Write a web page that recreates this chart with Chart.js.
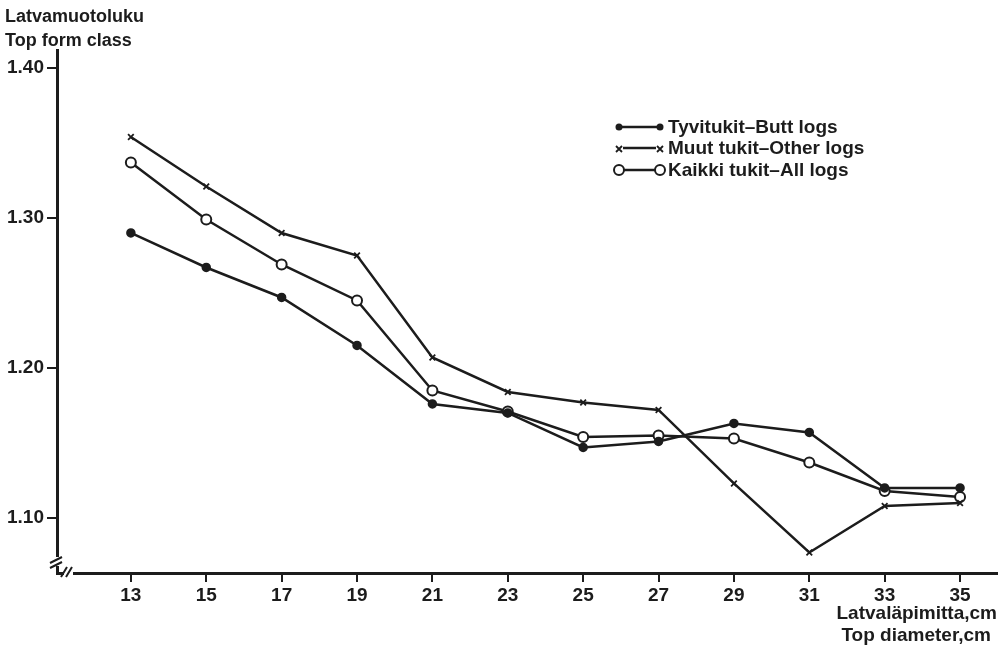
<!DOCTYPE html>
<html>
<head>
<meta charset="utf-8">
<script src="https://cdn.jsdelivr.net/npm/chart.js@4"></script>
<style>
  html, body { margin: 0; padding: 0; background: #fff; }
  #wrap { width: 1007px; height: 648px; }
</style>
</head>
<body>
<div id="wrap"><canvas id="chart" width="1007" height="648"></canvas></div>
<script>
// Latvaläpimitta (cm)
const diameters = [13, 15, 17, 19, 21, 23, 25, 27, 29, 31, 33, 35];
// Latvamuotoluku per series
const buttLogs  = [1.290, 1.267, 1.247, 1.215, 1.176, 1.170, 1.147, 1.151, 1.163, 1.157, 1.120, 1.120];
const otherLogs = [1.354, 1.321, 1.290, 1.275, 1.207, 1.184, 1.177, 1.172, 1.123, 1.077, 1.108, 1.110];
const allLogs   = [1.337, 1.299, 1.269, 1.245, 1.185, 1.171, 1.154, 1.155, 1.153, 1.137, 1.118, 1.114];
const yTicks = [1.10, 1.20, 1.30, 1.40];

const ink = '#1c1c1c';
const font = 'Liberation Sans, Arial, sans-serif';

const toPoints = arr => arr.map((v, i) => ({ x: diameters[i], y: v }));

const decor = {
    id: 'decor',
    afterDraw(chart) {
        const ctx = chart.ctx;
        const a = chart.chartArea;
        ctx.save();
        ctx.fillStyle = ink;
        ctx.font = 'bold 18px ' + font;
        ctx.textBaseline = 'middle';
        ctx.textAlign = 'left';
        ctx.fillText('Latvamuotoluku', 5, 17);
        ctx.fillText('Top form class', 5, 41);
        ctx.font = 'bold 19px ' + font;
        ctx.textAlign = 'right';
        ctx.fillText('Latvaläpimitta,cm', 997, 614);
        ctx.fillText('Top diameter,cm', 991, 636);

        // axis breaks
        ctx.fillStyle = '#fff';
        ctx.fillRect(a.left - 4, a.bottom - 16, 8, 9);
        ctx.fillRect(a.left + 7, a.bottom - 3, 9, 6);
        ctx.strokeStyle = ink;
        ctx.lineWidth = 2;
        ctx.beginPath();
        ctx.moveTo(a.left - 7, a.bottom - 10); ctx.lineTo(a.left + 5, a.bottom - 16);
        ctx.moveTo(a.left - 7, a.bottom - 5); ctx.lineTo(a.left + 5, a.bottom - 11);
        ctx.moveTo(a.left + 4, a.bottom + 4); ctx.lineTo(a.left + 10, a.bottom - 6);
        ctx.moveTo(a.left + 9, a.bottom + 4); ctx.lineTo(a.left + 15, a.bottom - 6);
        ctx.stroke();

        // legend
        const rows = [
            { y: 127, style: 'dot', text: 'Tyvitukit–Butt logs' },
            { y: 148, style: 'x', text: 'Muut tukit–Other logs' },
            { y: 170, style: 'ring', text: 'Kaikki tukit–All logs' }
        ];
        ctx.lineWidth = 2.5;
        rows.forEach(r => {
            ctx.strokeStyle = ink;
            ctx.beginPath();
            ctx.moveTo(619, r.y); ctx.lineTo(660, r.y);
            ctx.stroke();
            [619, 660].forEach(px => {
                if (r.style === 'dot') {
                    ctx.fillStyle = ink;
                    ctx.beginPath(); ctx.arc(px, r.y, 3.5, 0, Math.PI * 2); ctx.fill();
                } else if (r.style === 'ring') {
                    ctx.fillStyle = '#fff';
                    ctx.beginPath(); ctx.arc(px, r.y, 5, 0, Math.PI * 2); ctx.fill();
                    ctx.lineWidth = 2; ctx.stroke(); ctx.lineWidth = 2.5;
                } else {
                    ctx.fillStyle = '#fff';
                    ctx.fillRect(px - 4, r.y - 4, 8, 8);
                    ctx.lineWidth = 1.8;
                    ctx.beginPath();
                    ctx.moveTo(px - 3, r.y - 2); ctx.lineTo(px + 3, r.y + 4);
                    ctx.moveTo(px + 3, r.y - 2); ctx.lineTo(px - 3, r.y + 4);
                    ctx.stroke();
                    ctx.lineWidth = 2.5;
                }
            });
            ctx.fillStyle = ink;
            ctx.textAlign = 'left';
            ctx.font = 'bold 19px ' + font;
            ctx.fillText(r.text, 668, r.y + 1);
        });
        ctx.restore();
    }
};

new Chart(document.getElementById('chart').getContext('2d'), {
    type: 'line',
    data: {
        datasets: [
            {
                label: 'Tyvitukit–Butt logs',
                data: toPoints(buttLogs),
                borderColor: ink,
                backgroundColor: ink,
                borderWidth: 2.5,
                pointRadius: 3.5,
                pointStyle: 'circle',
                tension: 0
            },
            {
                label: 'Muut tukit–Other logs',
                data: toPoints(otherLogs),
                borderColor: ink,
                backgroundColor: ink,
                borderWidth: 2.5,
                pointRadius: 4,
                pointBorderWidth: 1.8,
                pointStyle: 'crossRot',
                tension: 0
            },
            {
                label: 'Kaikki tukit–All logs',
                data: toPoints(allLogs),
                borderColor: ink,
                backgroundColor: '#fff',
                borderWidth: 2.5,
                pointRadius: 5,
                pointBorderWidth: 2,
                pointStyle: 'circle',
                tension: 0
            }
        ]
    },
    options: {
        responsive: false,
        animation: false,
        layout: { padding: { left: 0, right: 10, top: 50, bottom: 0 } },
        plugins: { legend: { display: false }, tooltip: { enabled: false } },
        scales: {
            x: {
                type: 'linear',
                min: 11.04,
                max: 35.98,
                afterBuildTicks: s => { s.ticks = diameters.map(v => ({ value: v })); },
                afterFit: s => { s.height = 75; },
                border: { color: ink, width: 3 },
                grid: { drawOnChartArea: false, drawTicks: true, tickLength: 9, color: ink, lineWidth: 2 },
                ticks: { color: ink, font: { family: font, size: 19, weight: 'bold' }, padding: 2, maxRotation: 0 }
            },
            y: {
                min: 1.0633,
                max: 1.412,
                afterBuildTicks: s => { s.ticks = yTicks.map(v => ({ value: v })); },
                afterFit: s => { s.width = 57; },
                border: { color: ink, width: 3 },
                grid: { drawOnChartArea: false, drawTicks: true, tickLength: 10, color: ink, lineWidth: 2 },
                ticks: { color: ink, font: { family: font, size: 19, weight: 'bold' }, padding: 3,
                         callback: v => v.toFixed(2) }
            }
        }
    },
    plugins: [decor]
});
</script>
</body>
</html>
